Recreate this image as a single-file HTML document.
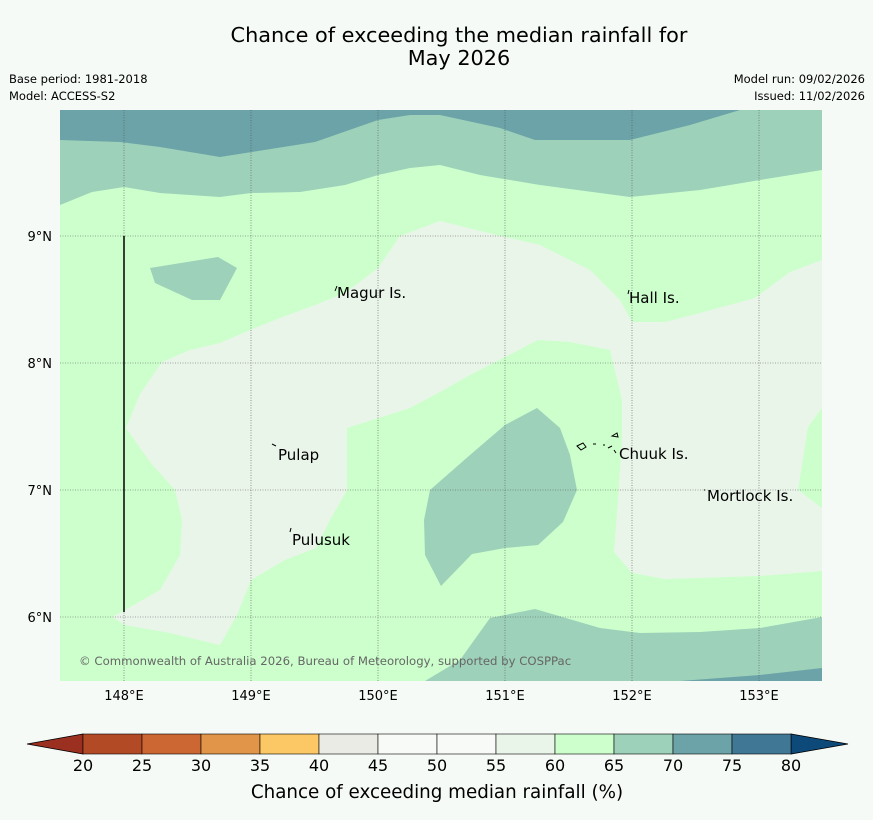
<!DOCTYPE html>
<html><head><meta charset="utf-8"><style>
body{margin:0;background:#f5faf6;font-family:"DejaVu Sans","Liberation Sans",sans-serif}
</style></head><body>
<svg width="873" height="816" xmlns="http://www.w3.org/2000/svg" font-family="DejaVu Sans, Liberation Sans, sans-serif">
<rect width="873" height="816" fill="#f5faf6"/>
<text x="459" y="42" font-size="20.8" text-anchor="middle">Chance of exceeding the median rainfall for</text>
<text x="459" y="65" font-size="20.8" text-anchor="middle">May 2026</text>
<text x="9" y="83" font-size="11.5">Base period: 1981-2018</text>
<text x="9" y="100" font-size="11.5">Model: ACCESS-S2</text>
<text x="865" y="83" font-size="11.5" text-anchor="end">Model run: 09/02/2026</text>
<text x="865" y="100" font-size="11.5" text-anchor="end">Issued: 11/02/2026</text>
<defs><clipPath id="mc"><rect x="60" y="110" width="762" height="571"/></clipPath></defs>
<g clip-path="url(#mc)">
<rect x="60" y="110" width="762" height="571" fill="#ccffcc"/>
<polygon fill="#9dd1b9" points="60,110 822,110 822,170 760,180 700,190 630,197 540,185 480,175 440,165 410,168 378,175 345,185 300,192 251,193 220,197 160,193 124,187 92,192 60,205"/>
<polygon fill="#6ba3a8" points="60,110 740,110 690,125 630,140 535,140 500,128 440,115 410,115 378,120 315,142 220,157 160,147 120,142 60,140"/>
<polygon fill="#9dd1b9" points="740,110 822,110 822,113 760,112"/>
<polygon fill="#eaf5ea" points="400,236 440,221 505,237 540,245 590,270 620,300 632,322 665,322 700,313 755,298 790,272 822,260 822,408 808,427 798,490 822,508 822,571 760,576 665,579 632,573 614,552 618,500 622,440 622,400 610,350 600,348 570,342 538,340 505,357 470,375 440,392 410,408 347,428 347,490 330,520 316,548 285,560 251,580 237,615 220,645 170,633 125,625 112,617 125,610 160,590 180,555 182,520 175,490 150,462 126,428 140,394 162,362 190,350 220,343 250,330 280,318 315,305 345,293 378,268"/>
<polygon fill="#9dd1b9" points="537,408 560,428 570,455 577,490 563,522 538,545 505,548 472,554 441,586 425,555 424,520 430,490 470,455 505,425"/>
<polygon fill="#9dd1b9" points="150,268 218,257 237,268 220,300 192,300 155,283"/>
<polygon fill="#9dd1b9" points="425,681 460,660 490,618 535,609 600,628 640,633 700,632 760,628 822,617 822,681"/>
<polygon fill="#6ba3a8" points="680,681 760,675 822,668 822,681"/>
<g stroke="#555" stroke-width="0.6" stroke-dasharray="1,1.5">
<line x1="124" y1="110" x2="124" y2="681"/><line x1="251" y1="110" x2="251" y2="681"/><line x1="378" y1="110" x2="378" y2="681"/><line x1="505" y1="110" x2="505" y2="681"/><line x1="632" y1="110" x2="632" y2="681"/><line x1="759" y1="110" x2="759" y2="681"/>
<line x1="60" y1="236" x2="822" y2="236"/><line x1="60" y1="363" x2="822" y2="363"/><line x1="60" y1="490" x2="822" y2="490"/><line x1="60" y1="617" x2="822" y2="617"/>
</g>
<line x1="124" y1="236" x2="124" y2="612" stroke="#000" stroke-width="1.5"/>
<g font-size="15" fill="#000">
<text x="337" y="298">Magur Is.</text>
<text x="629" y="303">Hall Is.</text>
<text x="278" y="460">Pulap</text>
<text x="619" y="459">Chuuk Is.</text>
<text x="707" y="501">Mortlock Is.</text>
<text x="292" y="545">Pulusuk</text>
</g>
<g stroke="#000" stroke-width="1" fill="none">
<path d="M335,291 l2,-5"/><path d="M628,294 l1,-4"/><path d="M272,444 l4,2"/><path d="M290,532 l1,-4"/><path d="M704,490 l1,0"/>
<path d="M577,446 l6,-3 l3,4 l-5,3z M593,444 l3,0 M603,445 l2,0 M608,448 l4,-2 M612,436 l5,-3 l1,4z M614,450 l2,3"/>
</g>
<text x="79" y="665" font-size="11.7" fill="#666">© Commonwealth of Australia 2026, Bureau of Meteorology, supported by COSPPac</text>
</g>
<g font-size="13" text-anchor="middle">
<text x="124" y="700">148°E</text><text x="251" y="700">149°E</text><text x="378" y="700">150°E</text><text x="505" y="700">151°E</text><text x="632" y="700">152°E</text><text x="759" y="700">153°E</text>
</g>
<g font-size="13" text-anchor="end">
<text x="52" y="241">9°N</text><text x="52" y="368">8°N</text><text x="52" y="495">7°N</text><text x="52" y="622">6°N</text>
</g>
<g id="cbar"></g>
<text x="437" y="798" font-size="18.3" text-anchor="middle">Chance of exceeding median rainfall (%)</text>
</svg>
<script>
const levels=[20,25,30,35,40,45,50,55,60,65,70,75,80];
const binColors=["#b34a26","#cc6633","#e09548","#fcc865","#ebebe6","#f7faf7","#f7faf7","#eaf5ea","#ccffcc","#9dd1b9","#6ba3a8","#3f7795"];
const underColor="#9c3020", overColor="#0d4a7a";
const g=document.getElementById('cbar');
const NS="http://www.w3.org/2000/svg";
const cx=v=>83+(v-20)*(708/60);
const y0=734,h=20;
function mk(t,a){const e=document.createElementNS(NS,t);for(const k in a)e.setAttribute(k,a[k]);g.appendChild(e);return e;}
let u=mk('polygon',{points:`${cx(20)},${y0} ${cx(20)},${y0+h} 27,${y0+h/2}`,fill:underColor,stroke:'#000','stroke-width':0.8});


let o=mk('polygon',{points:`${cx(80)},${y0} ${cx(80)},${y0+h} 848,${y0+h/2}`,fill:overColor,stroke:'#000','stroke-width':0.8});


for(let i=0;i<binColors.length;i++){
 const r=mk('rect',{x:cx(levels[i]),y:y0,width:cx(levels[i+1])-cx(levels[i]),height:h,fill:binColors[i],stroke:'#000','stroke-width':0.6});
 
 
}
levels.forEach(v=>{
 const t=mk('text',{x:cx(v),y:771,'font-size':16,'text-anchor':'middle'});
 t.textContent=v;
 
 
});
</script>
</body></html>
